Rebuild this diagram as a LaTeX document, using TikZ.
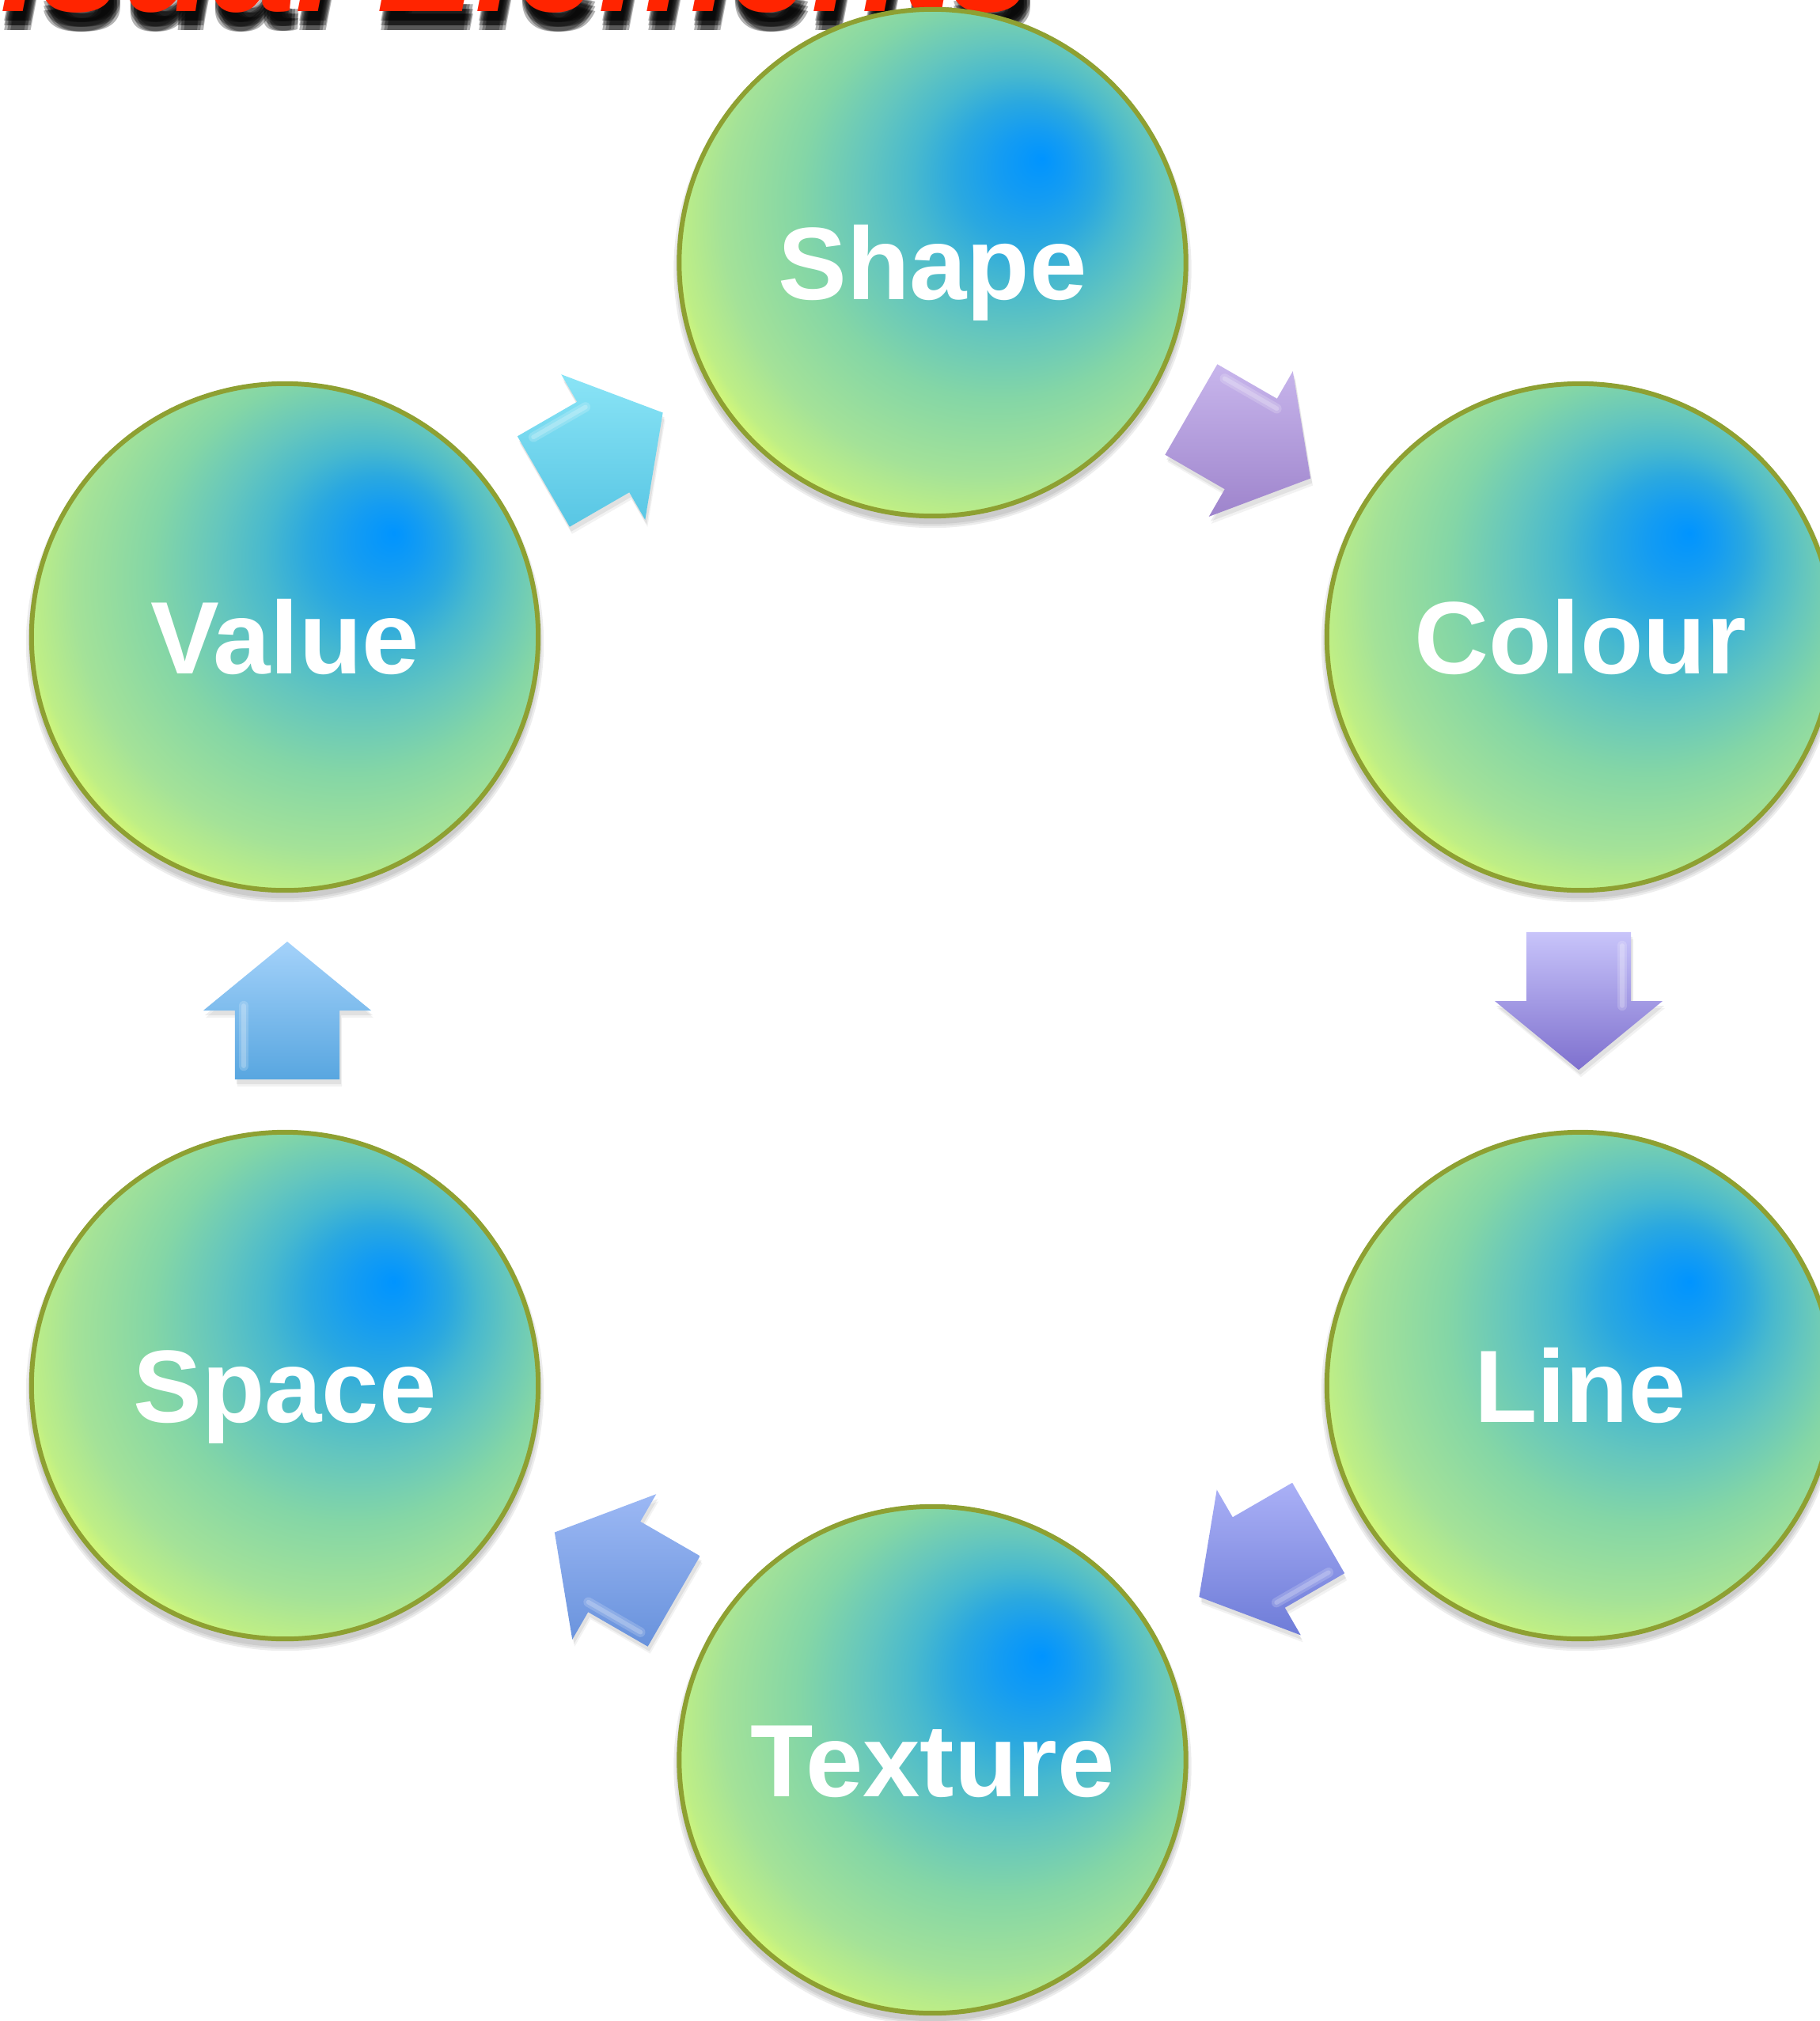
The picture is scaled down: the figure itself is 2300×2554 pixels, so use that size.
\documentclass[tikz,border=0pt]{standalone}
\usepackage{fontspec}
\setmainfont{Liberation Sans}
\newfontfamily\titlefont{Liberation Sans}
\usetikzlibrary{calc}

\definecolor{rim}{RGB}{142,160,50}
\definecolor{titlered}{RGB}{255,36,0}
\definecolor{o0}{RGB}{0,148,255}
\definecolor{o1}{RGB}{20,156,242}
\definecolor{o2}{RGB}{42,168,224}
\definecolor{o3}{RGB}{72,185,206}
\definecolor{o4}{RGB}{100,198,190}
\definecolor{o5}{RGB}{132,214,166}
\definecolor{o6}{RGB}{164,226,152}
\definecolor{o7}{RGB}{190,238,134}
\definecolor{o8}{RGB}{212,248,120}

\definecolor{a1t}{RGB}{138,228,246}\definecolor{a1b}{RGB}{88,198,228}
\definecolor{a2t}{RGB}{200,182,236}\definecolor{a2b}{RGB}{158,132,204}
\definecolor{a3t}{RGB}{200,196,250}\definecolor{a3b}{RGB}{126,112,206}
\definecolor{a4t}{RGB}{170,176,246}\definecolor{a4b}{RGB}{110,124,216}
\definecolor{a5t}{RGB}{156,184,244}\definecolor{a5b}{RGB}{104,146,220}
\definecolor{a6t}{RGB}{164,210,250}\definecolor{a6b}{RGB}{88,166,224}

\pgfdeclareradialshading{orbshade}{\pgfpoint{10.8bp}{10.3bp}}{color(0bp)=(o0); color(3.5bp)=(o1); color(7bp)=(o2); color(10.5bp)=(o3); color(14.4bp)=(o4); color(19.7bp)=(o5); color(26bp)=(o6); color(29.5bp)=(o7); color(30.7bp)=(o8); color(50bp)=(o8)}

\tikzset{
  orbnode/.style={circle, shade, shading=orbshade, draw=rim, line width=1.7pt,
    minimum size=6.4cm, inner sep=0pt, text=white,
    font=\bfseries\fontsize{37}{40}\selectfont, text height=26.5pt, text depth=0pt},
  titletext/.style={anchor=base west, inner sep=0pt,
    font=\titlefont\bfseries\itshape\fontsize{53}{60}\selectfont}
}

\newcommand{\arrowpath}[2]{($(#1)+(#2+180:0.87cm)+(#2+90:0.66cm)$) -- ($(#1)+(#2+90:0.66cm)$) -- ($(#1)+(#2+90:1.06cm)$) -- ($(#1)+(#2:0.87cm)$) -- ($(#1)+(#2-90:1.06cm)$) -- ($(#1)+(#2-90:0.66cm)$) -- ($(#1)+(#2+180:0.87cm)+(#2-90:0.66cm)$) -- cycle}

\newcommand{\blockarrow}[4]{%
  \begin{scope}[transform canvas={shift={(0.02cm,-0.06cm)}}]
    \fill[black,opacity=0.07] \arrowpath{#1}{#2};
  \end{scope}
  \begin{scope}[transform canvas={shift={(0.03cm,-0.09cm)}}]
    \fill[black,opacity=0.05] \arrowpath{#1}{#2};
  \end{scope}
  \shade[top color=#3, bottom color=#4] \arrowpath{#1}{#2};
  \draw[white, opacity=0.18, line width=3.5pt, line cap=round]
    ($(#1)+(#2+180:0.70cm)+(#2+90:0.55cm)$) -- ($(#1)+(#2:0.06cm)+(#2+90:0.55cm)$);
  \draw[white, opacity=0.22, line width=1.6pt, line cap=round]
    ($(#1)+(#2+180:0.70cm)+(#2+90:0.55cm)$) -- ($(#1)+(#2:0.06cm)+(#2+90:0.55cm)$);
}

\begin{document}
\begin{tikzpicture}[x=0.01cm,y=0.01cm]
\useasboundingbox (0,0) rectangle (2300,-2554);
\begin{scope}
\clip (0,0) rectangle (2300,-2554);

% title (cut off at the top)
\foreach \dx/\dy [count=\i] in {2/-12,6/-12,10/-12,2/-18,6/-18,10/-18,2/-24,6/-24,10/-24}
  \node[titletext, text=black, opacity=0.3] (tsh\i) at (-118+\dx,-14+\dy) {Visual Elements};
\node[titletext, text=titlered] (title) at (-118,-14) {Visual Elements};

% centres
\coordinate (cS) at (1178.5,-332);
\coordinate (cC) at (1997,-805);
\coordinate (cL) at (1997,-1751);
\coordinate (cT) at (1178.5,-2224);
\coordinate (cP) at (360,-1751);
\coordinate (cV) at (360,-805);

% soft shadows of the circles
\foreach \c in {cS,cC,cL,cT,cP,cV}{
  \foreach \r in {3.22,3.245,3.27}{
    \fill[black, opacity=0.07] ($(\c)+(0,-8)$) circle (\r cm);
  }
}

\node[orbnode] (shape)   at (cS) {Shape};
\node[orbnode] (colour)  at (cC) {Colour};
\node[orbnode] (line)    at (cL) {Line};
\node[orbnode] (texture) at (cT) {Texture};
\node[orbnode] (space)   at (cP) {Space};
\node[orbnode] (value)   at (cV) {Value};

% block arrows between the circles
\coordinate (a1) at ($(value)!0.5!(shape)+(-7,3.5)$);
\coordinate (a2) at ($(shape)!0.5!(colour)+(-7,7.5)$);
\coordinate (a3) at ($(colour)!0.5!(line)+(-2,13)$);
\coordinate (a4) at ($(line)!0.5!(texture)+(3,13)$);
\coordinate (a5) at ($(texture)!0.5!(space)+(7,7.5)$);
\coordinate (a6) at ($(space)!0.5!(value)+(3,1)$);

\blockarrow{a1}{30}{a1t}{a1b}
\blockarrow{a2}{-30}{a2t}{a2b}
\blockarrow{a3}{-90}{a3t}{a3b}
\blockarrow{a4}{210}{a4t}{a4b}
\blockarrow{a5}{150}{a5t}{a5b}
\blockarrow{a6}{90}{a6t}{a6b}
\end{scope}
\end{tikzpicture}
\end{document}
